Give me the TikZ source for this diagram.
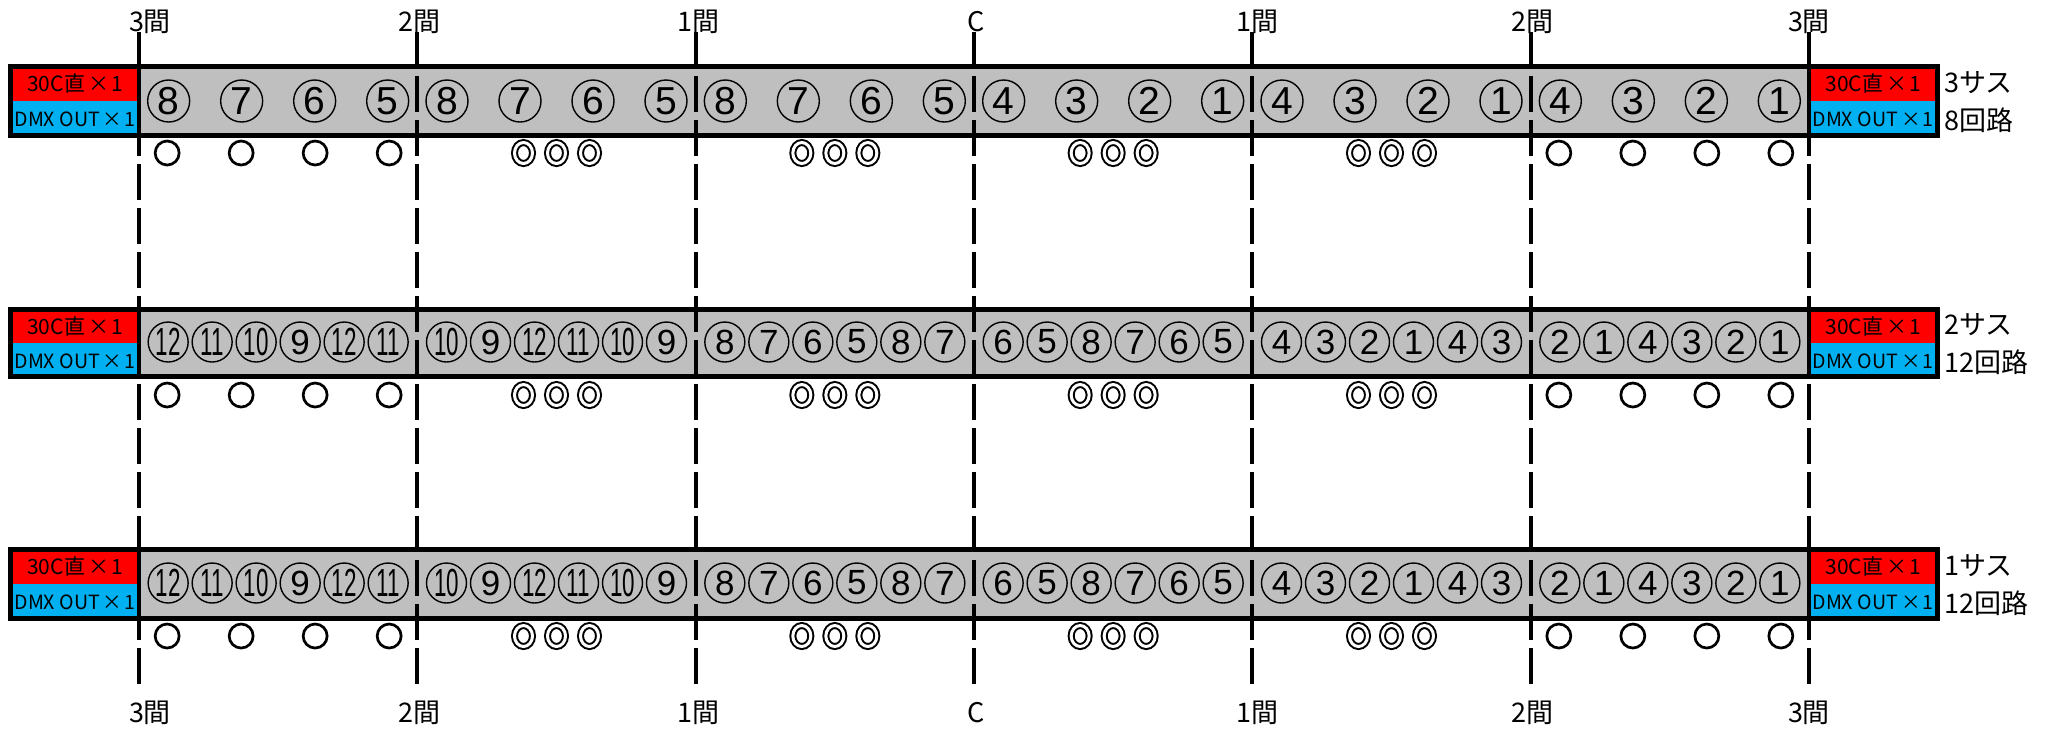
\documentclass[tikz,border=0pt]{standalone}
\usepackage{fontspec}
\usepackage{graphicx}
\setmainfont{Noto Sans CJK JP}
\newfontfamily\dig{Liberation Sans}
\usetikzlibrary{shapes.geometric}
\definecolor{boxred}{RGB}{255,0,0}
\definecolor{boxblue}{RGB}{0,176,240}
\definecolor{boxgray}{RGB}{191,191,191}
\newcommand{\tms}{\hspace{1.5pt}×\hspace{1pt}}
\begin{document}
\begin{tikzpicture}[x=0.5pt,y=-0.5pt,
  vline/.style={line width=2pt, dash pattern=on 18pt off 4pt},
  divider/.style={line width=2pt},
  frame/.style={line width=2.5pt},
  cnumA/.style={circle, draw, line width=0.7pt, minimum size=21pt, inner sep=0pt, font=\dig\fontsize{19.5}{19.5}\selectfont},
  cnumB/.style={circle, draw, line width=0.7pt, minimum size=20pt, inner sep=0pt, font=\dig\fontsize{17.5}{17.5}\selectfont},
  ring/.style={circle, draw, line width=1.35pt, minimum size=12pt, inner sep=0pt},
  dring/.style={ellipse, draw, line width=1pt, double=white, double distance=1.5pt, minimum width=9pt, minimum height=10.5pt, inner sep=0pt},
  lab/.style={inner sep=0pt, font=\fontsize{13.5}{13.5}\selectfont},
  sidelab/.style={inner sep=0pt, anchor=west, font=\fontsize{13.5}{13.5}\selectfont},
  redtxt/.style={inner sep=0pt, font=\fontsize{10.5}{11}\selectfont},
  bluetxt/.style={inner sep=0pt, font=\fontsize{9.8}{10}\selectfont}
]
\useasboundingbox[fill=white] (0,0) rectangle (2049,730);

% rows: fills, frame
\foreach \r/\yt/\yb/\lbA/\lbB in {1/64/138/3サス/8回路, 2/307/379/2サス/12回路, 3/547/621/1サス/12回路}{
  \pgfmathsetmacro\ym{(\yt+\yb)/2}
  \fill[boxgray] (139,\yt) rectangle (1809,\yb);
  \fill[boxred] (8,\yt) rectangle (139,\ym);
  \fill[boxblue] (8,\ym) rectangle (139,\yb);
  \fill[boxred] (1809,\yt) rectangle (1940,\ym);
  \fill[boxblue] (1809,\ym) rectangle (1940,\yb);
  \draw[frame] (10.5,{\yt+2.5}) rectangle (1937.5,{\yb-2.5});
  \draw[divider] (139,\yt) -- (139,\yb);
  \draw[divider] (1809,\yt) -- (1809,\yb);
  \node[redtxt] (lr\r) at (75,{(\yt+\ym)/2+1}) {30C直\tms 1};
  \node[bluetxt] (lb\r) at (75,{(\ym+\yb)/2}) {DMX OUT\tms 1};
  \node[redtxt] (rr\r) at (1873,{(\yt+\ym)/2+1}) {30C直\tms 1};
  \node[bluetxt] (rb\r) at (1873,{(\ym+\yb)/2}) {DMX OUT\tms 1};
  \node[sidelab] (sa\r) at (1944,{(\yt+\ym)/2}) {\lbA};
  \node[sidelab] (sb\r) at (1944,{(\ym+\yb)/2+1}) {\lbB};
}

% vertical dashed lines and labels
\foreach \j/\t/\dx in {0/3間/11, 1/2間/2, 2/1間/3, 3/C/2, 4/1間/5, 5/2間/2, 6/3間/0}{
  \coordinate (vt\j) at ({139+278.33*\j},32);
  \coordinate (vb\j) at ({139+278.33*\j},688);
  \draw[vline] (vt\j) -- (vb\j);
  \node[lab] (top\j) at ({139+278.33*\j+\dx},22) {\t};
  \node[lab] (bot\j) at ({139+278.33*\j+\dx},713) {\t};
}

% row 1 circled numbers
\foreach \s/\lst in {0/{8,7,6,5},1/{8,7,6,5},2/{8,7,6,5},3/{4,3,2,1},4/{4,3,2,1},5/{4,3,2,1}}{
  \foreach \n [count=\i] in \lst {
    \pgfmathsetmacro\xx{139+278.33*(\s+0.5)+73*(\i-2.5)}
    \node[cnumA] (r1-s\s-n\i) at (\xx,101) {\n};
  }
}

% rows 2 and 3 circled numbers
\foreach \r/\yc in {2/342,3/583}{
  \foreach \s/\lst in {0/{12,11,10,9,12,11},1/{10,9,12,11,10,9},2/{8,7,6,5,8,7},3/{6,5,8,7,6,5},4/{4,3,2,1,4,3},5/{2,1,4,3,2,1}}{
    \foreach \n [count=\i] in \lst {
      \pgfmathsetmacro\xx{139+278.33*(\s+0.5)+44*(\i-3.5)}
      \node[cnumB] (r\r-s\s-n\i) at (\xx,\yc) {\ifnum\n>9 \scalebox{0.64}[1.12]{\n}\else\n\fi};
    }
  }
}

% markers
\foreach \r/\my in {1/153,2/395,3/636}{
  \foreach \s in {0,5}{
    \foreach \i in {1,...,4}{
      \node[ring] (m\r-\s-\i) at ({139+278.33*(\s+0.5)+74*(\i-2.5)},\my) {};
    }
  }
  \foreach \s in {1,...,4}{
    \foreach \i in {1,2,3}{
      \node[dring] (d\r-\s-\i) at ({139+278.33*(\s+0.5)+33*(\i-2)},\my) {};
    }
  }
}
\end{tikzpicture}
\end{document}
